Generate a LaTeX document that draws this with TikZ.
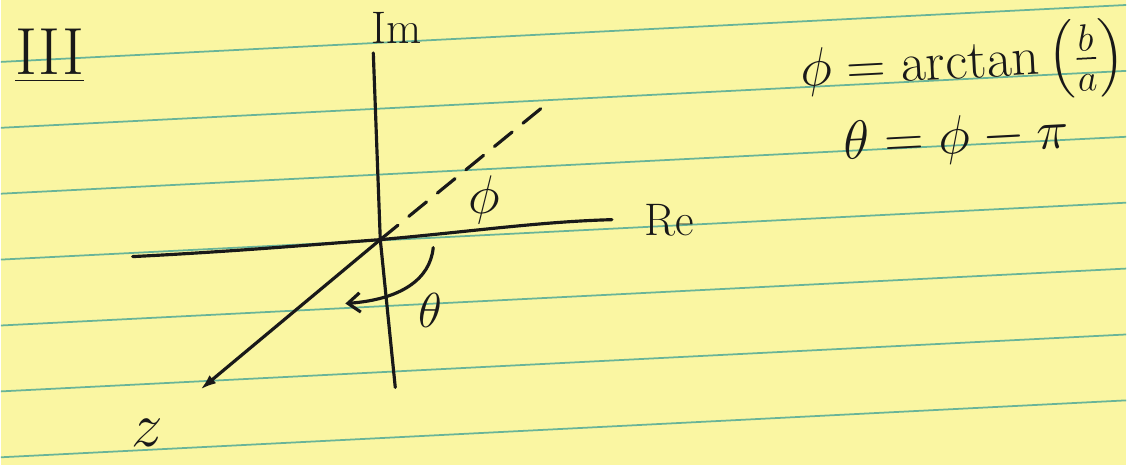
\RequirePackage{fix-cm}
\documentclass[tikz,border=0pt]{standalone}
\usepackage{amsmath}
\usetikzlibrary{arrows.meta}
\definecolor{paper}{RGB}{250,246,162}
\definecolor{ruling}{RGB}{105,180,152}
\definecolor{ink}{RGB}{25,25,25}

\begin{document}
\begin{tikzpicture}[x=0.02cm,y=-0.02cm,
  ink/.style={draw=ink,line width=1.8pt,line cap=round},
  lbl/.style={text=ink,font=\fontsize{26}{30}\selectfont,inner sep=0pt},
  biglbl/.style={lbl,font=\fontsize{31}{36}\selectfont}]
% ---- legal pad sheet
\fill[paper] (0,0) rectangle (1127,466);
\foreach \k in {0,...,6}
  \draw[ruling,line width=1pt] (0,{62+66*\k}) -- (1127,{5+66*\k});
% ---- axes
\coordinate (O) at (380,240);
\coordinate (imtop) at (373,53);
\coordinate (imbot) at (395,388);
\coordinate (releft) at (132,257);
\coordinate (reright) at (612,220);
\draw[ink] (imtop) -- (O) -- (imbot);
\draw[ink] (releft) .. controls (230,252) and (300,246) .. (O) .. controls (470,232) and (540,222) .. (reright);
\node[lbl] (im) at (396,28) {Im};
\node[lbl] (re) at (669,221) {Re};
% ---- z, its mirror and the angles
\coordinate (Z) at (200,390);
\coordinate (D) at (543,107);
\coordinate (arcstart) at (433,248);
\coordinate (arcend) at (345,304);
\draw[ink,-{Latex[length=9pt,width=6pt]}] (O) -- (Z);
\draw[ink,dash pattern=on 13pt off 8pt] (O) -- (D);
\draw[ink,-{Straight Barb[length=7pt,width=11pt]}] (arcstart) .. controls (430,280) and (400,300) .. (arcend);
\node[biglbl] (phi) at (484,200) {$\phi$};
\node[lbl,font=\fontsize{28}{32}\selectfont] (theta) at (430,311) {$\theta$};
\node[lbl,font=\fontsize{36}{40}\selectfont] (z) at (147,434) {$z$};
% ---- case number and formulas
\node[lbl,font=\fontsize{38}{44}\selectfont] (num) at (49,56) {\underline{III}};
\node[biglbl,rotate=3] (eqphi) at (963,65) {$\phi = \arctan\left(\frac{b}{a}\right)$};
\node[biglbl,rotate=3] (eqtheta) at (957,140) {$\theta = \phi - \pi$};
\end{tikzpicture}
\end{document}
